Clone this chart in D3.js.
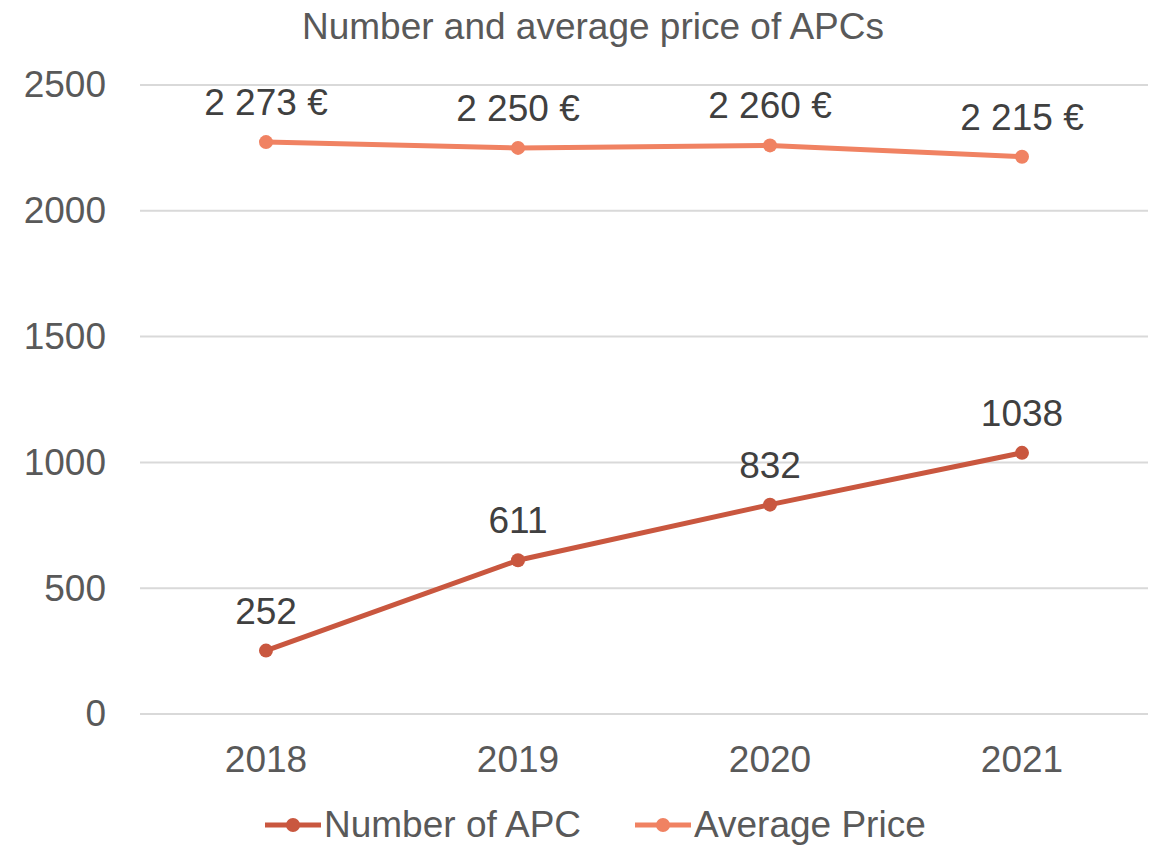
<!DOCTYPE html>
<html>
<head>
<meta charset="utf-8">
<script src="https://cdn.jsdelivr.net/npm/d3@7"></script>
<style>
  body { margin: 0; background: #fff; }
  text { font-family: "Liberation Sans", Arial, sans-serif; }
</style>
</head>
<body>
<div id="chart"></div>
<script>
const years = ['2018', '2019', '2020', '2021'];
const numberOfApc = [252, 611, 832, 1038];
const averagePrice = [2273, 2250, 2260, 2215];
const yTicks = [0, 500, 1000, 1500, 2000, 2500];

const width = 1157;
const height = 845;
const marginLeft = 140;
const marginRight = 9;
const marginTop = 85;
const marginBottom = 131;

const apcColor = '#C9573F';
const priceColor = '#F08262';

const svg = d3.select('#chart')
  .append('svg')
  .attr('width', width)
  .attr('height', height);

const x = d3.scaleBand()
  .domain(years)
  .range([marginLeft, width - marginRight]);

const y = d3.scaleLinear()
  .domain([0, 2500])
  .range([height - marginBottom, marginTop]);

// gridlines
svg.append('g')
  .selectAll('line')
  .data(yTicks)
  .enter()
  .append('line')
    .attr('x1', marginLeft)
    .attr('x2', width - marginRight)
    .attr('y1', d => y(d))
    .attr('y2', d => y(d))
    .attr('stroke', '#d9d9d9')
    .attr('stroke-width', 2);

// y axis labels
const yAxis = d3.axisLeft(y).tickValues(yTicks).tickFormat(d3.format('d')).tickSize(0).tickPadding(34);
svg.append('g')
  .attr('transform', 'translate(' + marginLeft + ',0)')
  .call(yAxis)
  .call(g => g.select('.domain').remove())
  .call(g => g.selectAll('text')
    .attr('fill', '#595959')
    .style('font-size', '37px'));

// x axis labels
const xAxis = d3.axisBottom(x).tickSize(0).tickPadding(32);
svg.append('g')
  .attr('transform', 'translate(0,' + (height - marginBottom) + ')')
  .call(xAxis)
  .call(g => g.select('.domain').remove())
  .call(g => g.selectAll('text')
    .attr('fill', '#595959')
    .style('font-size', '37px'));

const cx = d => x(d) + x.bandwidth() / 2;

function drawSeries(values, color, fmt) {
  const line = d3.line()
    .x((d, i) => cx(years[i]))
    .y(d => y(d));
  svg.append('path')
    .datum(values)
    .attr('d', line)
    .attr('fill', 'none')
    .attr('stroke', color)
    .attr('stroke-width', 5)
    .attr('stroke-linejoin', 'round');
  svg.append('g')
    .selectAll('circle')
    .data(values)
    .enter()
    .append('circle')
      .attr('cx', (d, i) => cx(years[i]))
      .attr('cy', d => y(d))
      .attr('r', 7)
      .attr('fill', color);
  svg.append('g')
    .selectAll('text')
    .data(values)
    .enter()
    .append('text')
      .attr('x', (d, i) => cx(years[i]))
      .attr('y', d => y(d) - 27)
      .attr('text-anchor', 'middle')
      .attr('fill', '#404040')
      .style('font-size', '37px')
      .text(fmt);
}

drawSeries(numberOfApc, apcColor, d => d);
drawSeries(averagePrice, priceColor, d => d3.format(',')(d).replace(',', ' ') + ' €');

// title
svg.append('text')
  .attr('x', 593)
  .attr('y', 39)
  .attr('text-anchor', 'middle')
  .attr('fill', '#595959')
  .style('font-size', '37px')
  .text('Number and average price of APCs');

// legend
const legend = [
  { name: 'Number of APC', color: apcColor, x: 265 },
  { name: 'Average Price', color: priceColor, x: 635 }
];
const lg = svg.append('g')
  .selectAll('g')
  .data(legend)
  .enter()
  .append('g')
    .attr('transform', d => 'translate(' + d.x + ',825)');
lg.append('line')
  .attr('x1', 0).attr('x2', 56)
  .attr('stroke', d => d.color)
  .attr('stroke-width', 5);
lg.append('circle')
  .attr('cx', 28).attr('r', 7)
  .attr('fill', d => d.color);
lg.append('text')
  .attr('x', 59)
  .attr('y', 12)
  .attr('fill', '#595959')
  .style('font-size', '37px')
  .text(d => d.name);
</script>
</body>
</html>
